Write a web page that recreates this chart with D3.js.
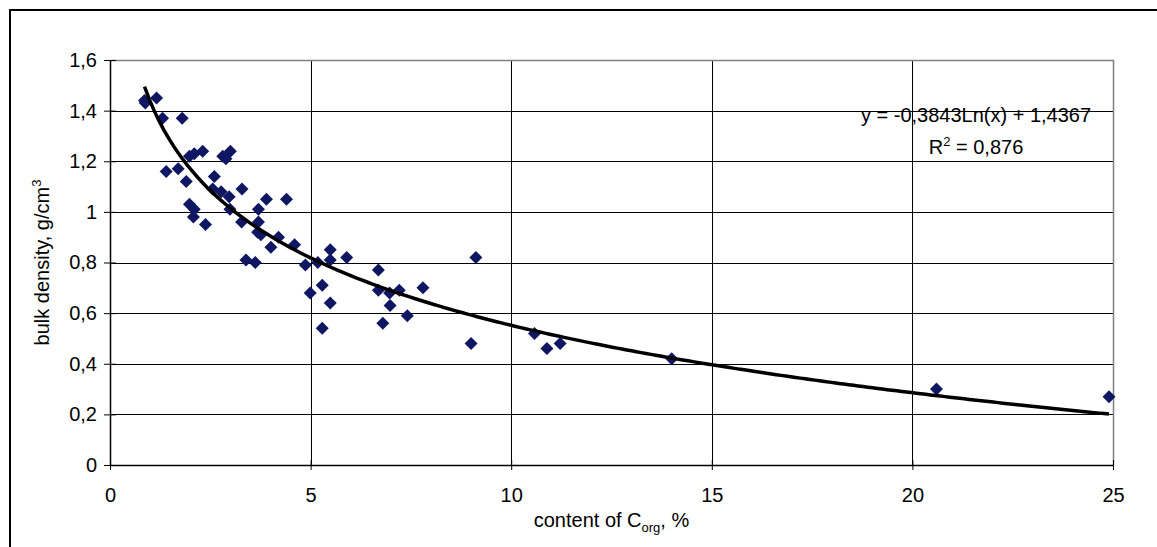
<!DOCTYPE html>
<html>
<head>
<meta charset="utf-8">
<script src="https://cdn.jsdelivr.net/npm/d3@7"></script>
<style>
  body { margin: 0; background: #fff; }
  svg { display: block; font-family: "Liberation Sans", Arial, sans-serif; }
</style>
</head>
<body>
<div class="chart"></div>
<script>
// organic carbon content, % (x) and bulk density, g/cm3 (y)
const corg = [0.86, 1.16, 0.88, 1.31, 1.80, 1.40, 1.70, 1.90, 1.98, 2.10,
    2.31, 1.98, 2.10, 2.08, 2.38, 2.60, 2.56, 2.77, 2.97, 2.81,
    2.89, 3.00, 2.99, 3.29, 3.28, 3.70, 3.70, 3.68, 3.76, 3.90,
    4.40, 4.20, 4.01, 4.60, 3.39, 3.62, 4.87, 5.18, 5.49, 5.49,
    5.90, 4.99, 5.29, 5.49, 5.29, 6.69, 6.69, 6.97, 7.21, 6.98,
    7.41, 6.80, 7.80, 9.12, 9.00, 10.58, 10.89, 11.22, 14.0, 20.6, 24.9];
const density = [1.44, 1.45, 1.43, 1.37, 1.37, 1.16, 1.17, 1.12, 1.22, 1.23,
    1.24, 1.03, 1.01, 0.98, 0.95, 1.14, 1.09, 1.08, 1.06, 1.22,
    1.21, 1.24, 1.01, 1.09, 0.96, 1.01, 0.96, 0.92, 0.91, 1.05,
    1.05, 0.90, 0.86, 0.87, 0.81, 0.80, 0.79, 0.80, 0.85, 0.81,
    0.82, 0.68, 0.71, 0.64, 0.54, 0.77, 0.69, 0.68, 0.69, 0.63,
    0.59, 0.56, 0.70, 0.82, 0.48, 0.52, 0.46, 0.48, 0.42, 0.30, 0.27];

// logarithmic trendline  y = a*ln(x) + b
const fitA = -0.3843, fitB = 1.4367;
const equationLabel = "y = -0,3843Ln(x) + 1,4367";
const r2Label = " = 0,876";

const xTicks = [0, 5, 10, 15, 20, 25];
const xTickLabels = ["0", "5", "10", "15", "20", "25"];
const yTicks = [0, 0.2, 0.4, 0.6, 0.8, 1, 1.2, 1.4, 1.6];
const yTickLabels = ["0", "0,2", "0,4", "0,6", "0,8", "1", "1,2", "1,4", "1,6"];

const width = 1157, height = 547;
const plotL = 110, plotR = 1113, plotT = 60, plotB = 465;

const svg = d3.select("div.chart")
    .append("svg")
    .attr("width", width)
    .attr("height", height);

// outer chart frame (runs off the right and bottom edge)
svg.append("rect")
    .attr("x", 10).attr("y", 10)
    .attr("width", width).attr("height", height)
    .attr("fill", "#fff")
    .attr("stroke", "#000")
    .attr("stroke-width", 2);

const x = d3.scaleLinear().domain([0, 25]).range([plotL, plotR]);
const y = d3.scaleLinear().domain([0, 1.6]).range([plotB, plotT]);

// gridlines
svg.append("g")
    .selectAll("line")
    .data(yTicks.slice(1, -1))
    .join("line")
    .attr("x1", plotL).attr("x2", plotR)
    .attr("y1", d => Math.round(y(d)) + 0.5)
    .attr("y2", d => Math.round(y(d)) + 0.5)
    .attr("stroke", "#000");

svg.append("g")
    .selectAll("line")
    .data(xTicks.slice(1, -1))
    .join("line")
    .attr("y1", plotT).attr("y2", plotB)
    .attr("x1", d => Math.round(x(d)) + 0.5)
    .attr("x2", d => Math.round(x(d)) + 0.5)
    .attr("stroke", "#000");

// plot area border, top and right
svg.append("path")
    .attr("d", `M${plotL},${plotT + 0.5}H${plotR + 0.5}V${plotB}`)
    .attr("fill", "none")
    .attr("stroke", "#808080")
    .attr("stroke-width", 1.5);

// axes
const xAxis = svg.append("g")
    .attr("transform", `translate(0,${plotB})`)
    .call(d3.axisBottom(x)
        .tickValues(xTicks)
        .tickFormat((d, i) => xTickLabels[i])
        .tickSize(5)
        .tickSizeOuter(0)
        .tickPadding(18));

const yAxis = svg.append("g")
    .attr("transform", `translate(${plotL},0)`)
    .call(d3.axisLeft(y)
        .tickValues(yTicks)
        .tickFormat((d, i) => yTickLabels[i])
        .tickSize(6)
        .tickSizeOuter(0)
        .tickPadding(7));

[xAxis, yAxis].forEach(g => {
    g.select(".domain").attr("stroke", "#000").attr("stroke-width", 1.5);
    g.selectAll(".tick line").attr("stroke", "#000");
    g.selectAll(".tick line").clone()
        .attr("transform", g === xAxis ? "scale(1,-1)" : "scale(-1,1)");
    g.selectAll("text")
        .attr("font-family", "Liberation Sans, Arial, sans-serif")
        .attr("font-size", 20)
        .attr("fill", "#000");
});

// data points as diamonds
const points = corg.map((c, i) => ({ c: c, d: density[i] }));
const r = 6.5;
svg.append("g")
    .selectAll("path")
    .data(points)
    .join("path")
    .attr("d", p => {
        const cx = x(p.c), cy = y(p.d);
        return `M${cx},${cy - r}L${cx + r},${cy}L${cx},${cy + r}L${cx - r},${cy}Z`;
    })
    .attr("fill", "#0f1763");

// trendline across the data range
const xMin = d3.min(corg), xMax = d3.max(corg);
const trend = d3.range(0, 201).map(i => {
    const c = xMin + (xMax - xMin) * i / 200;
    return [c, fitA * Math.log(c) + fitB];
});
svg.append("path")
    .datum(trend)
    .attr("d", d3.line().x(d => x(d[0])).y(d => y(d[1])))
    .attr("fill", "none")
    .attr("stroke", "#000")
    .attr("stroke-width", 3.5);

// equation labels
svg.append("text")
    .attr("x", 976).attr("y", 122)
    .attr("text-anchor", "middle")
    .attr("font-size", 20)
    .text(equationLabel);

const r2 = svg.append("text")
    .attr("x", 976).attr("y", 154)
    .attr("text-anchor", "middle")
    .attr("font-size", 20);
r2.append("tspan").text("R");
r2.append("tspan").attr("font-size", 13).attr("dy", -8).text("2");
r2.append("tspan").attr("dy", 8).text(r2Label);

// axis titles
const xt = svg.append("text")
    .attr("x", (plotL + plotR) / 2).attr("y", 527)
    .attr("text-anchor", "middle")
    .attr("font-size", 20);
xt.append("tspan").text("content of C");
xt.append("tspan").attr("font-size", 13).attr("dy", 5).text("org");
xt.append("tspan").attr("dy", -5).text(", %");

const yt = svg.append("text")
    .attr("transform", `translate(49,${(plotT + plotB) / 2}) rotate(-90)`)
    .attr("text-anchor", "middle")
    .attr("font-size", 20);
yt.append("tspan").text("bulk density, g/cm");
yt.append("tspan").attr("font-size", 13).attr("dy", -8).text("3");
</script>
</body>
</html>
